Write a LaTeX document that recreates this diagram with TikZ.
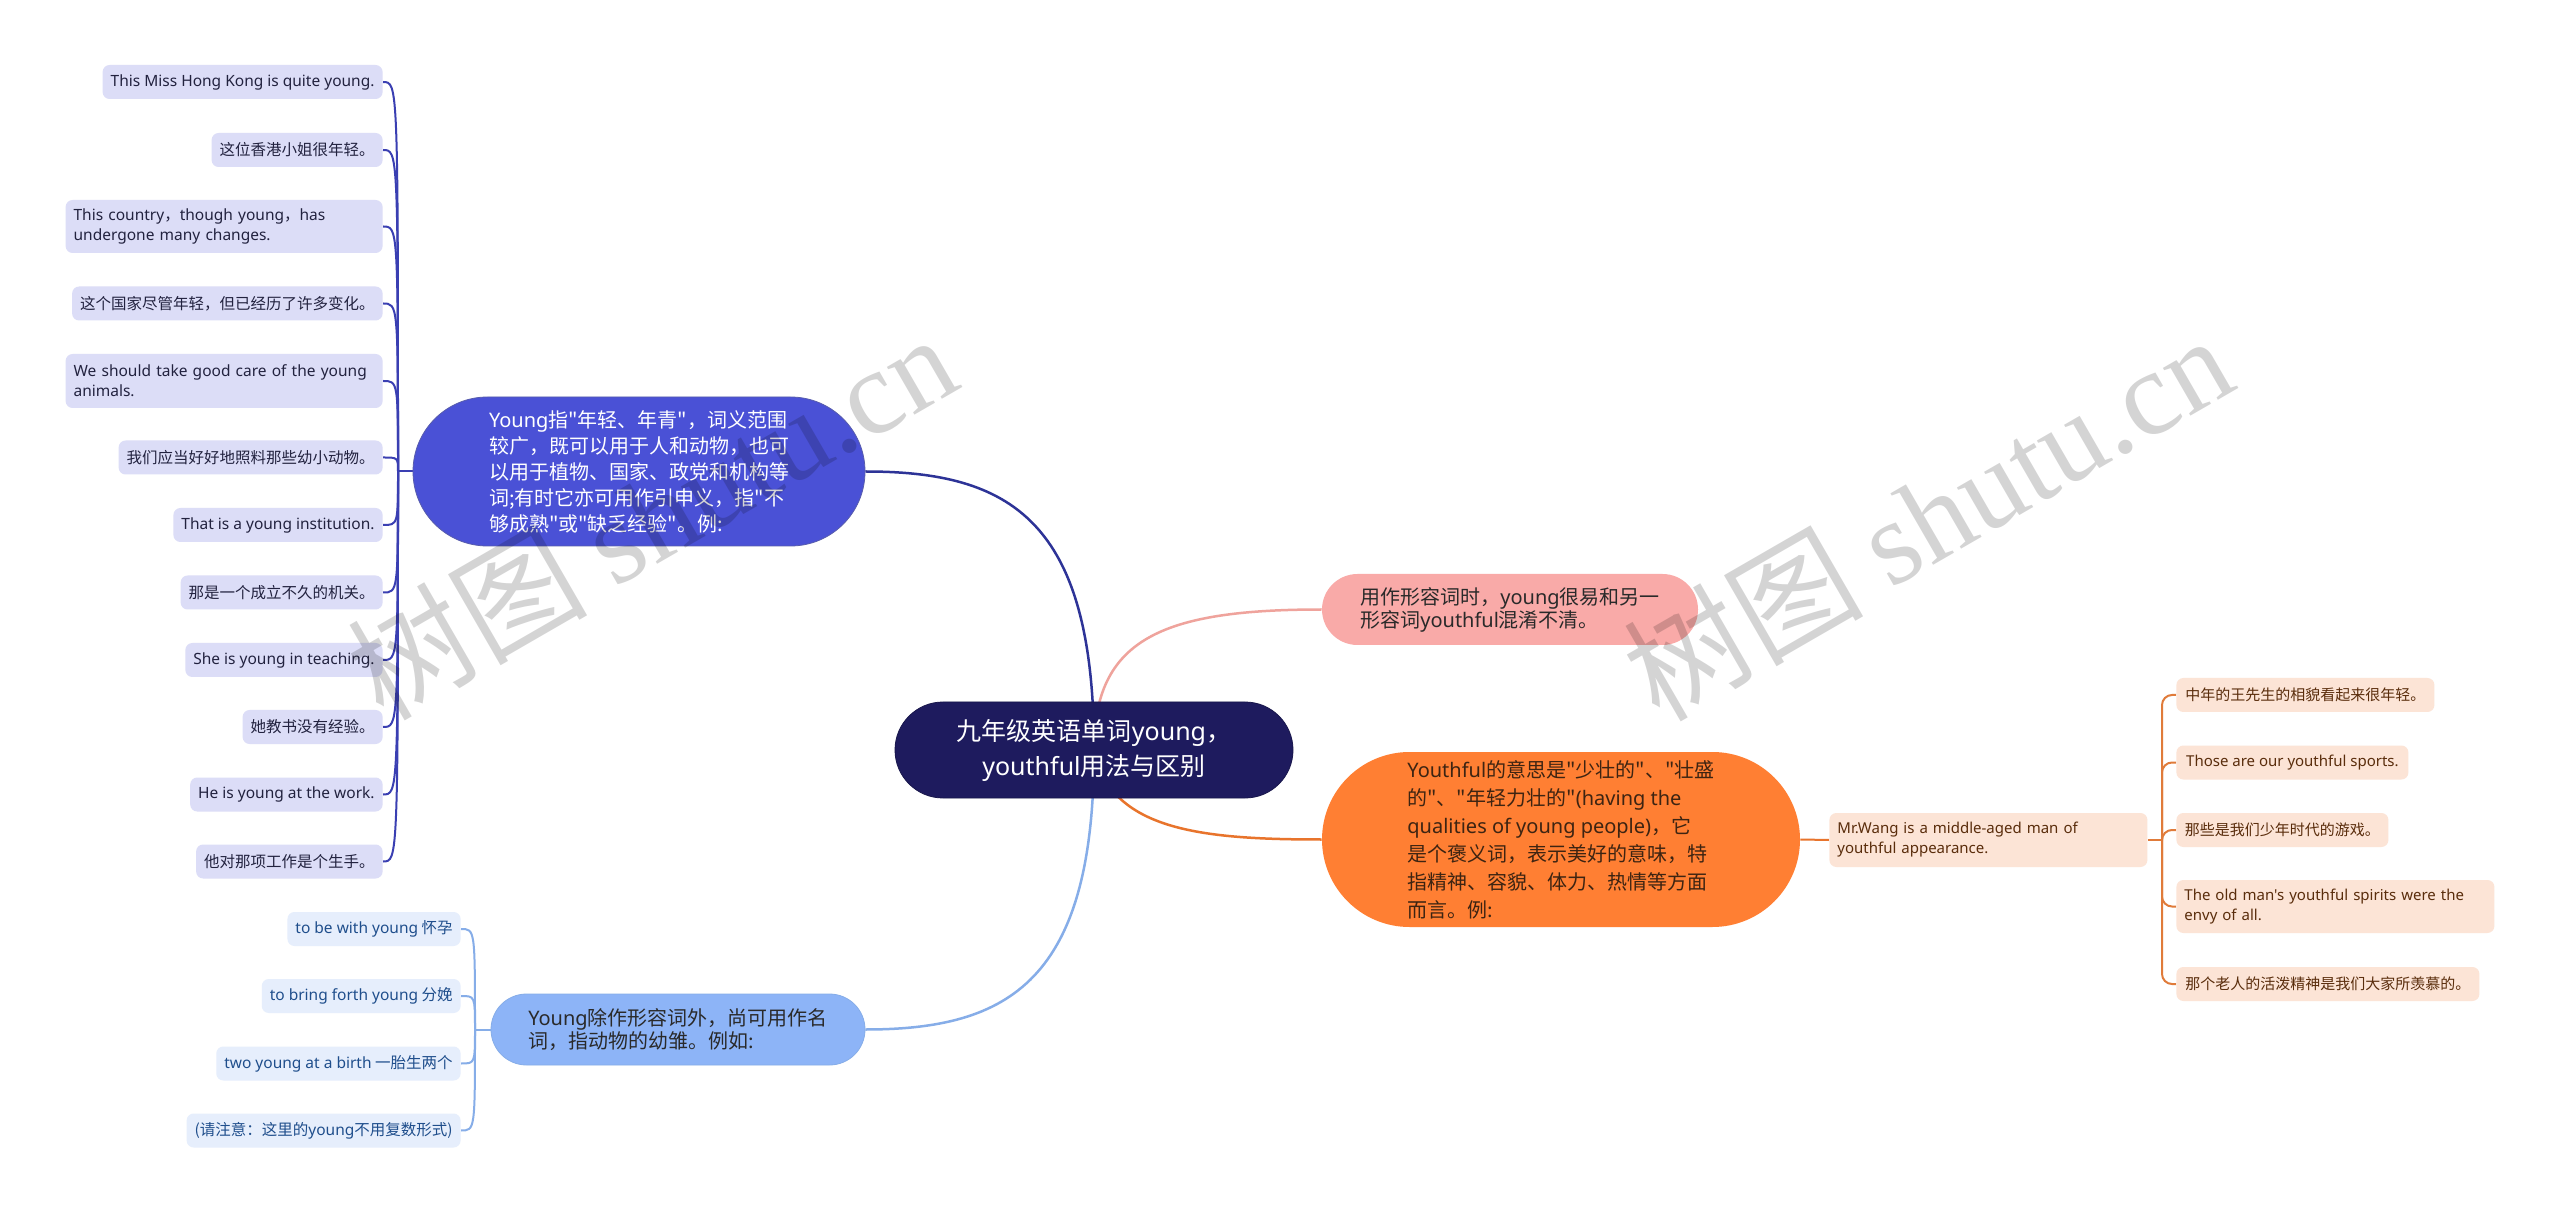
\documentclass[tikz,border=0pt]{standalone}
\usepackage{fontspec}
\setmainfont{Noto Sans CJK SC}
\newfontfamily\latfont{Noto Sans}
\newfontfamily\qfont{Noto Sans CJK SC}[Ligatures=TeXOff]
\newfontfamily\wmlat{Liberation Serif}
\newcommand\E[1]{{\latfont #1}}
\newcommand\Q{{\qfont\symbol{34}}}
\newcommand\fsz[2]{\fontsize{#1}{#2}\selectfont}
\pgfdeclarelayer{bg}
\pgfsetlayers{bg,main}
\definecolor{cnavy}{HTML}{1E1B5E}
\definecolor{cblue}{HTML}{4A51D6}
\definecolor{cblueleaf}{HTML}{DCDDF7}
\definecolor{cbluetext}{HTML}{22223F}
\definecolor{cblueline}{HTML}{3A3FB2}
\definecolor{cmainblue}{HTML}{2D3397}
\definecolor{cpink}{HTML}{F9AAA8}
\definecolor{cpinkline}{HTML}{EFA39C}
\definecolor{corange}{HTML}{FF7F33}
\definecolor{corangeline}{HTML}{E8742C}
\definecolor{corangetext}{HTML}{3D2412}
\definecolor{cpeach}{HTML}{FCE4D6}
\definecolor{cpeachtext}{HTML}{5A2D0C}
\definecolor{cpeachline}{HTML}{E07B3A}
\definecolor{clight}{HTML}{8DB4F7}
\definecolor{clightline}{HTML}{86ADE8}
\definecolor{clightleaf}{HTML}{E6EEFC}
\definecolor{clighttext}{HTML}{1F4E8C}
\definecolor{cdark}{HTML}{2A2A2A}
\begin{document}
\begin{tikzpicture}[x=0.5pt,y=-0.5pt,
  pill/.style={inner sep=0pt, align=left, font=\fsz{10}{13}},
  leaf/.style={rounded corners=3.5pt, inner xsep=4pt, inner ysep=0pt, minimum height=17pt, align=left, font=\fsz{7.75}{10}},
  bleaf/.style={leaf, fill=cblueleaf, text=cbluetext, anchor=east},
  lleaf/.style={leaf, fill=clightleaf, text=clighttext, anchor=east},
  oleaf/.style={leaf, fill=cpeach, text=cpeachtext, anchor=west, font=\fsz{7.5}{10}},
  mainline/.style={line width=1.25pt},
  subline/.style={line width=1pt},
  wmark/.style={rotate=30, text=black, text opacity=0.17, inner sep=0pt, font=\fsz{60}{60}}
]
\begin{pgfonlayer}{bg}
\path[use as bounding box, fill=white] (0,0) rectangle (2560,1213);
\end{pgfonlayer}

% central node
\node[pill, align=center, fill=cnavy, draw=cnavy!80!black, text=white, minimum width=199pt, minimum height=48pt, rounded corners=24pt, font=\fsz{12.5}{17.5}] (c) at (1094,750)
  {九年级英语单词\E{young}，\\\E{youthful}用法与区别};

% first level
\node[pill, fill=cblue, draw=cmainblue!80, text=white, minimum width=226pt, minimum height=74.5pt, rounded corners=37.25pt] (bl) at (639,471.5)
  {\E{Young}指\Q 年轻、年青\Q，词义范围\\较广，既可以用于人和动物，也可\\以用于植物、国家、政党和机构等\\词;有时它亦可用作引申义，指\Q 不\\够成熟\Q 或\Q 缺乏经验\Q。例:};
\node[pill, fill=cpink, text=cdark, minimum width=188pt, minimum height=35.5pt, rounded corners=17.75pt, font=\fsz{10}{11.5}] (pk) at (1510,609.5)
  {用作形容词时，\E{young}很易和另一\\形容词\E{youthful}混淆不清。};
\node[pill, fill=corange, text=corangetext, minimum width=239pt, minimum height=87.5pt, rounded corners=43.75pt, font=\fsz{10}{14}] (or) at (1561,839.5)
  {\E{Youthful}的意思是\Q 少壮的\Q、\Q 壮盛\\的\Q、\Q 年轻力壮的\Q\E{(having the}\\\E{qualities of young people)}，它\\是个褒义词，表示美好的意味，特\\指精神、容貌、体力、热情等方面\\而言。例:};
\node[pill, fill=clight, draw=clightline, text=cdark, minimum width=187pt, minimum height=35.5pt, rounded corners=17.75pt, font=\fsz{10}{11.5}] (lb) at (678,1029.5)
  {\E{Young}除作形容词外，尚可用作名\\词，指动物的幼雏。例如:};

% blue leaves
\node[bleaf, minimum width=140pt] (l1) at (383,82) {\E{This Miss Hong Kong is quite young.}};
\node[bleaf, minimum width=83pt] (l2) at (383,150) {这位香港小姐很年轻。};
\node[bleaf, text width=150.5pt, minimum height=26.5pt] (l3) at (383,226.5) {\E{This country}，\E{though young}，\E{has}\\\E{undergone many changes.}};
\node[bleaf, minimum width=151pt] (l4) at (383,303.5) {这个国家尽管年轻，但已经历了许多变化。};
\node[bleaf, text width=150.5pt, minimum height=27pt] (l5) at (383,381) {\E{We should take good care of the young}\\\E{animals.}};
\node[bleaf, minimum width=128pt] (l6) at (383,457.5) {我们应当好好地照料那些幼小动物。};
\node[bleaf, minimum width=103.5pt] (l7) at (383,525) {\E{That is a young institution.}};
\node[bleaf, minimum width=98pt] (l8) at (383,592.5) {那是一个成立不久的机关。};
\node[bleaf, minimum width=98pt] (l9) at (383,660) {\E{She is young in teaching.}};
\node[bleaf, minimum width=67.5pt] (l10) at (383,727) {她教书没有经验。};
\node[bleaf, minimum width=95.5pt] (l11) at (383,794.5) {\E{He is young at the work.}};
\node[bleaf, minimum width=90.5pt] (l12) at (383,861.5) {他对那项工作是个生手。};

% light blue leaves
\node[lleaf, minimum width=86.5pt] (m1) at (461,929) {\E{to be with young} 怀孕};
\node[lleaf, minimum width=99pt] (m2) at (461,996) {\E{to bring forth young} 分娩};
\node[lleaf, minimum width=121pt] (m3) at (461,1063.5) {\E{two young at a birth} 一胎生两个};
\node[lleaf, minimum width=134pt] (m4) at (461,1130.5) {(请注意：这里的\E{young}不用复数形式)};

% orange branch
\node[oleaf, text width=151pt, minimum height=27pt] (mw) at (1829,840) {\E{Mr.Wang is a middle-aged man of}\\\E{youthful appearance.}};
\node[oleaf, minimum width=129pt] (o1) at (2176,695) {中年的王先生的相貌看起来很年轻。};
\node[oleaf, minimum width=116pt] (o2) at (2176,762.5) {\E{Those are our youthful sports.}};
\node[oleaf, minimum width=106pt] (o3) at (2176,830) {那些是我们少年时代的游戏。};
\node[oleaf, text width=151pt, minimum height=26.5pt] (o4) at (2176,906.5) {\E{The old man's youthful spirits were the}\\\E{envy of all.}};
\node[oleaf, minimum width=151.5pt] (o5) at (2176,984) {那个老人的活泼精神是我们大家所羡慕的。};

\coordinate (bj) at (398,471.5);
\coordinate (lj) at (475,1029.5);
\coordinate (oj) at (2162,840);

\begin{pgfonlayer}{bg}
  \draw[mainline, cmainblue] (c.center) .. controls (1094,520) and (1010,471.5) .. (bl.east);
  \draw[mainline, cpinkline] (c.center) .. controls (1094,640) and (1160,609.5) .. (pk.west);
  \draw[mainline, corangeline] (c.center) .. controls (1110,830) and (1200,839.5) .. (or.west);
  \draw[mainline, clightline] (c.center) .. controls (1094,980) and (1010,1029.5) .. (lb.east);

  \draw[subline, cblueline] (bl.west) -- (bj);
  \foreach \n in {l1,l2,l3,l4,l5,l6,l7,l8,l9,l10,l11,l12}
    \draw[subline, cblueline] (bj) .. controls (bj |- \n.east) .. (\n.east);

  \draw[subline, clightline] (lb.west) -- (lj);
  \foreach \n in {m1,m2,m3,m4}
    \draw[subline, clightline] (lj) .. controls (lj |- \n.east) .. (\n.east);

  \draw[subline, corangeline] (or.east) -- (mw.west);
  \draw[subline, cpeachline] (mw.east) -- (oj);
  \foreach \n in {o1,o2,o3,o4,o5}
    \draw[subline, cpeachline, rounded corners=5pt] (oj) |- (\n.west);
\end{pgfonlayer}

% watermarks
\node[wmark] (w1) at (651,515) {树图 {\wmlat shutu.cn}};
\node[wmark] (w2) at (1927,516) {树图 {\wmlat shutu.cn}};
\end{tikzpicture}
\end{document}
